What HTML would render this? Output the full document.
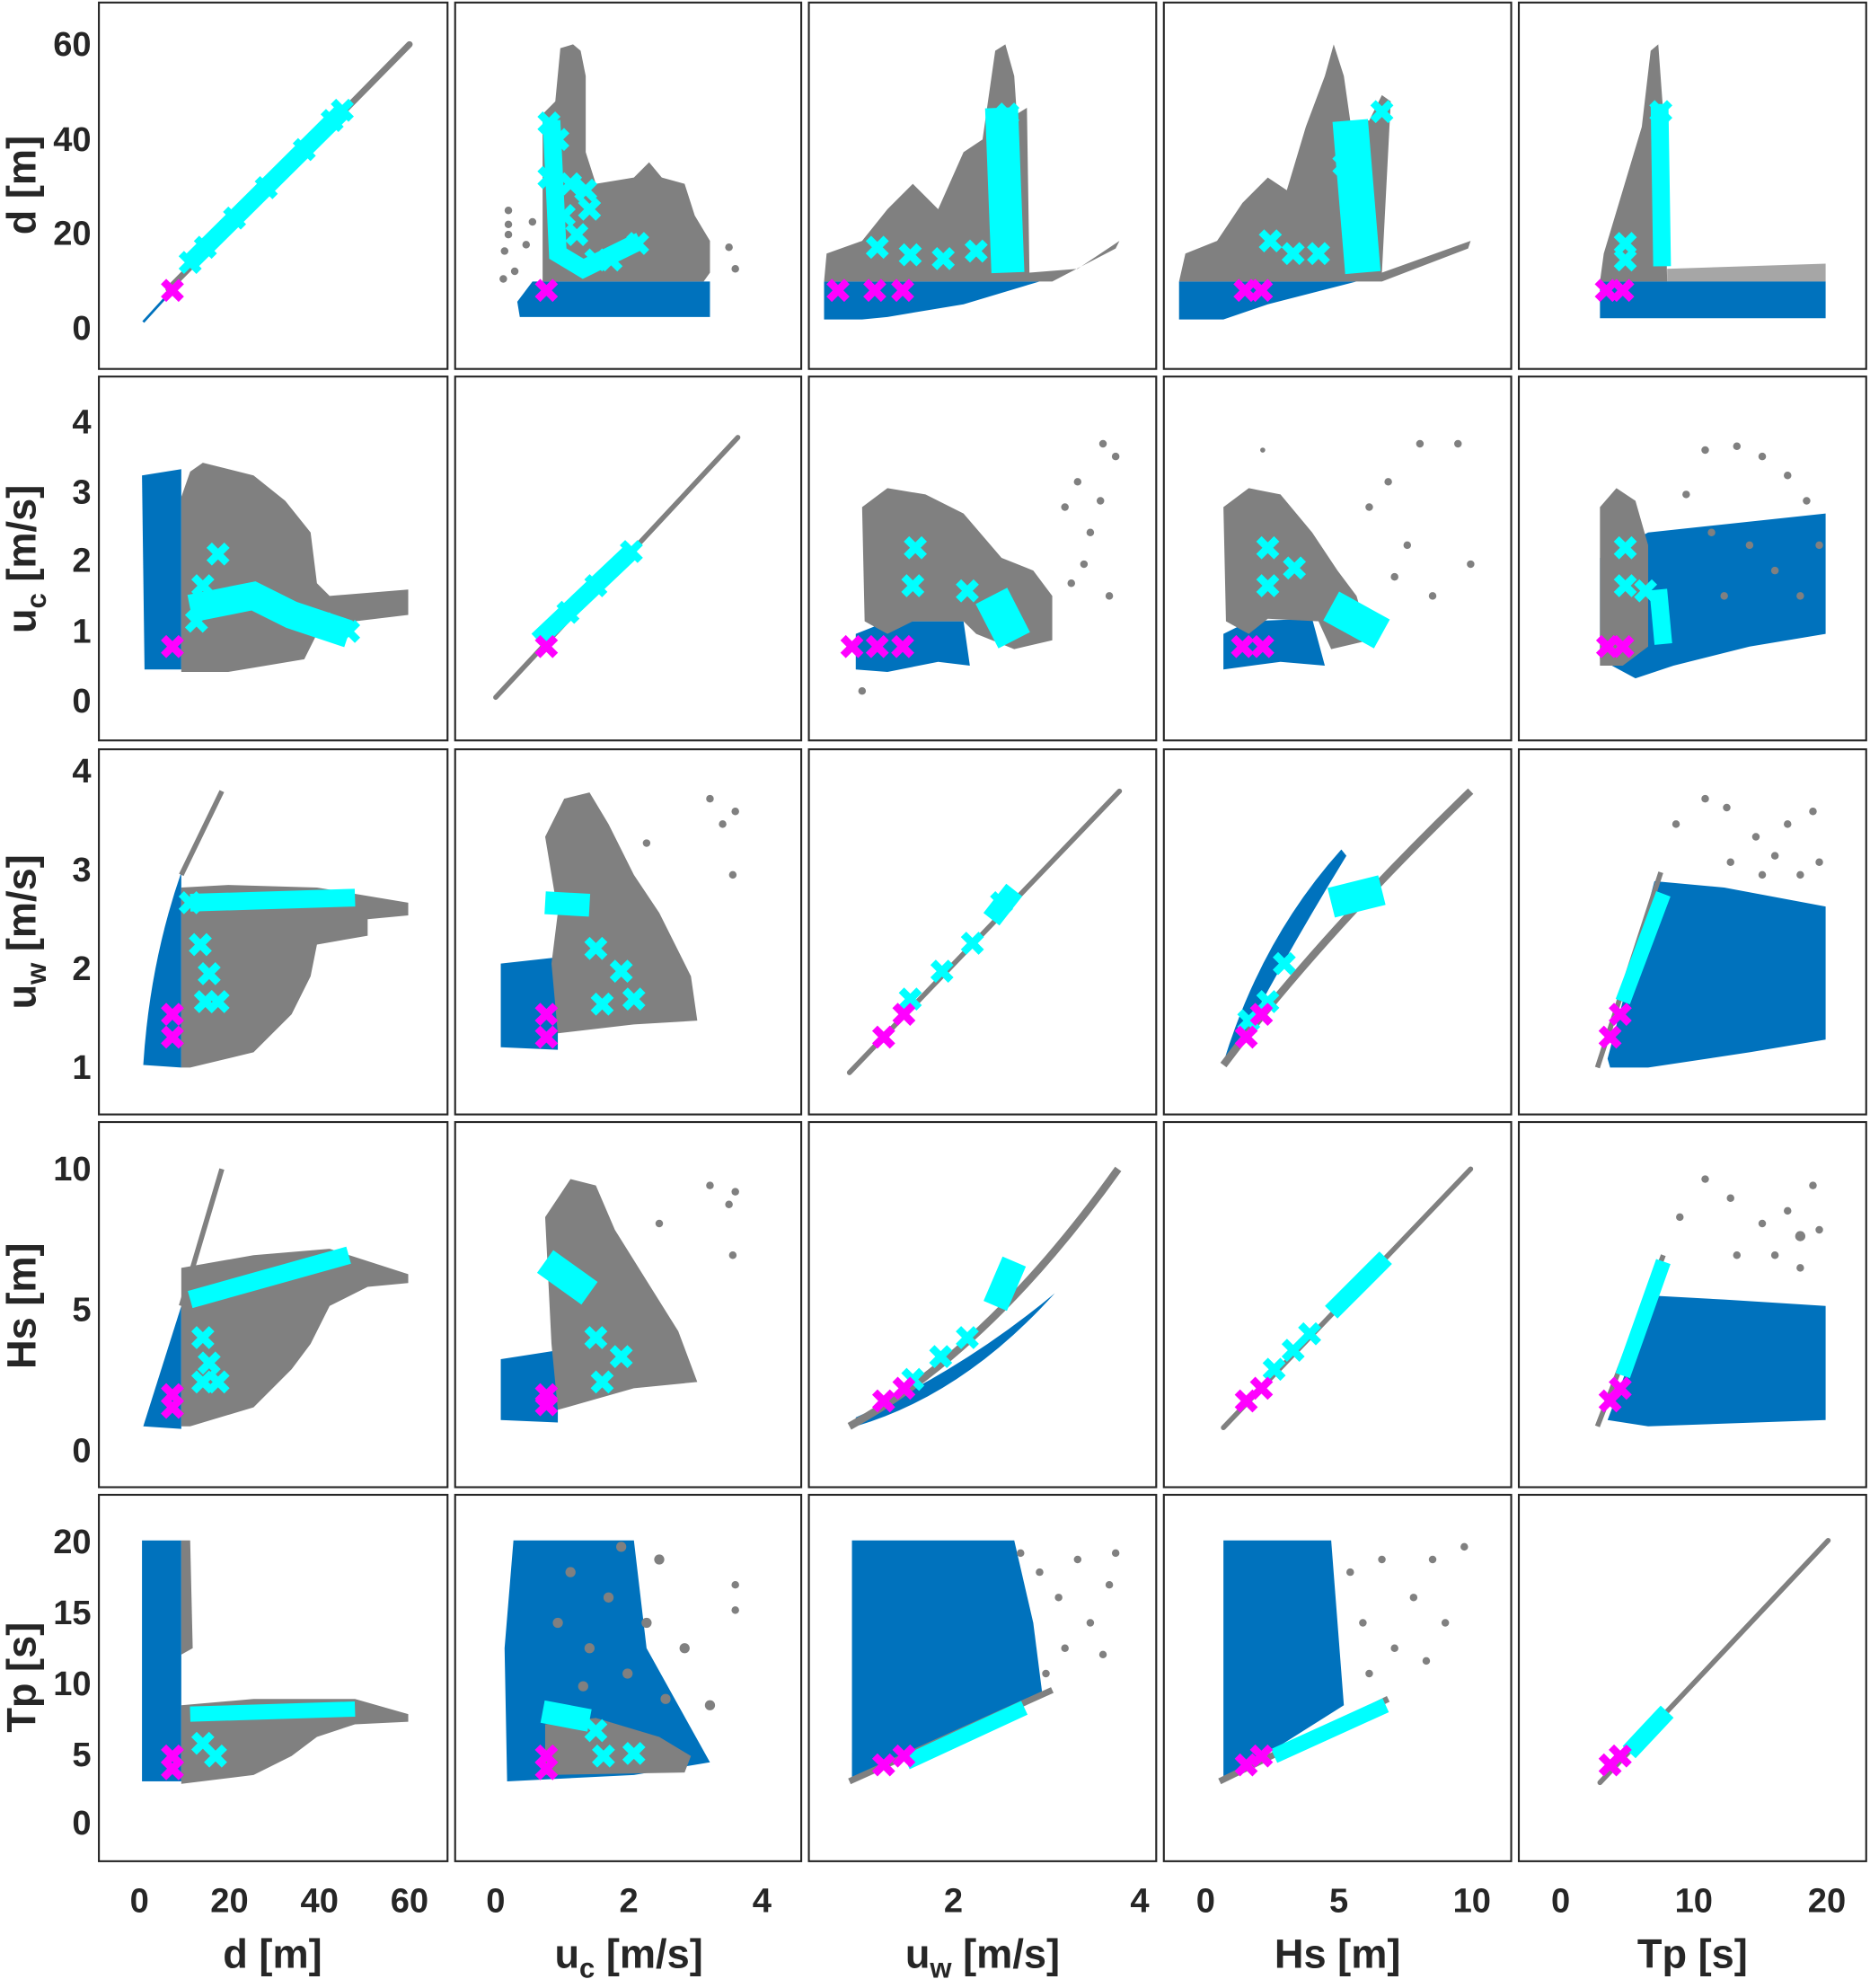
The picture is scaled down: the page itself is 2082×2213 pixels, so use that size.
<!DOCTYPE html>
<html><head><meta charset="utf-8"><style>html,body{margin:0;padding:0;background:#fff}svg{display:block}</style></head>
<body>
<svg width="2082" height="2213" viewBox="0 0 1475 1568" preserveAspectRatio="none" xmlns="http://www.w3.org/2000/svg" font-family="Liberation Sans, Arial, sans-serif" font-weight="bold" fill="#262626">
<defs>
<path id="x" d="M-7,-7L7,7M-7,7L7,-7" fill="none" stroke-width="6"/>
</defs>
<rect width="1475" height="1568" fill="#fff"/>

<!-- ===== ROW 1 (d) ===== -->
<line x1="113" y1="254" x2="133" y2="232" stroke="#0072BD" stroke-width="2"/>
<line x1="133" y1="228" x2="323" y2="35" stroke="#808080" stroke-width="5" stroke-linecap="round"/>
<line x1="150" y1="207" x2="272" y2="86" stroke="#00FFFF" stroke-width="14"/>
<g stroke="#00FFFF"><use href="#x" x="150" y="207"/><use href="#x" x="162" y="195"/><use href="#x" x="185" y="172"/><use href="#x" x="210" y="148"/><use href="#x" x="240" y="118"/><use href="#x" x="262" y="95"/><use href="#x" x="270" y="87"/></g>
<g stroke="#FF00FF"><use href="#x" x="136" y="229"/></g>

<path d="M410,250 L408,238 L420,222 L560,222 L560,250 Z" fill="#0072BD"/>
<path d="M428,222 L428,90 L438,80 L442,38 L452,35 L458,40 L462,60 L462,120 L470,145 L500,140 L512,128 L522,140 L540,145 L548,170 L560,190 L560,215 L555,222 Z" fill="#808080"/>
<g fill="#808080"><circle cx="401" cy="166" r="3"/><circle cx="401" cy="177" r="3"/><circle cx="401" cy="185" r="3"/><circle cx="398" cy="198" r="3"/><circle cx="415" cy="193" r="3"/><circle cx="406" cy="214" r="3"/><circle cx="397" cy="220" r="3"/><circle cx="420" cy="175" r="3"/><circle cx="575" cy="195" r="3"/><circle cx="580" cy="212" r="3"/></g>
<path d="M435,95 L440,200 L460,212 L505,190" fill="none" stroke="#00FFFF" stroke-width="14"/>
<g stroke="#00FFFF"><use href="#x" x="433" y="97"/><use href="#x" x="440" y="110"/><use href="#x" x="433" y="140"/><use href="#x" x="450" y="145"/><use href="#x" x="462" y="150"/><use href="#x" x="445" y="170"/><use href="#x" x="455" y="185"/><use href="#x" x="470" y="205"/><use href="#x" x="482" y="205"/><use href="#x" x="503" y="192"/><use href="#x" x="465" y="165"/></g>
<g stroke="#FF00FF"><use href="#x" x="431" y="229"/></g>

<path d="M650,222 L820,222 L760,240 L700,250 L680,252 L650,252 Z" fill="#0072BD"/>
<path d="M650,222 L652,200 L680,190 L700,165 L720,145 L740,165 L760,120 L775,110 L785,40 L793,35 L800,60 L802,90 L810,85 L812,215 L850,212 L883,190 L880,196 L830,222 Z" fill="#808080"/>
<path d="M790,85 L795,215" stroke="#00FFFF" stroke-width="26"/>
<g stroke="#00FFFF"><use href="#x" x="692" y="195"/><use href="#x" x="718" y="201"/><use href="#x" x="744" y="204"/><use href="#x" x="770" y="198"/><use href="#x" x="795" y="90"/></g>
<g stroke="#FF00FF"><use href="#x" x="661" y="229"/><use href="#x" x="690" y="229"/><use href="#x" x="712" y="229"/></g>

<path d="M930,222 L1070,222 L1000,240 L965,252 L930,252 Z" fill="#0072BD"/>
<path d="M930,222 L935,200 L960,190 L980,160 L1000,140 L1015,150 L1030,100 L1045,60 L1052,35 L1060,60 L1065,95 L1080,95 L1090,75 L1097,80 L1090,215 L1160,190 L1158,196 L1090,222 Z" fill="#808080"/>
<path d="M1065,95 L1075,215" stroke="#00FFFF" stroke-width="28"/>
<g stroke="#00FFFF"><use href="#x" x="1002" y="190"/><use href="#x" x="1020" y="200"/><use href="#x" x="1040" y="200"/><use href="#x" x="1090" y="88"/><use href="#x" x="1060" y="130"/></g>
<g stroke="#FF00FF"><use href="#x" x="982" y="229"/><use href="#x" x="995" y="229"/></g>

<rect x="1262" y="222" width="178" height="29" fill="#0072BD"/>
<path d="M1262,222 L1265,200 L1280,150 L1295,100 L1302,40 L1308,35 L1312,90 L1315,222 Z" fill="#808080"/>
<path d="M1315,212 L1440,208 L1440,222 L1315,222 Z" fill="#808080" opacity="0.7"/>
<path d="M1309,82 L1311,210" stroke="#00FFFF" stroke-width="14"/>
<g stroke="#00FFFF"><use href="#x" x="1282" y="192"/><use href="#x" x="1282" y="205"/><use href="#x" x="1310" y="88"/></g>
<g stroke="#FF00FF"><use href="#x" x="1267" y="229"/><use href="#x" x="1280" y="229"/></g>

<!-- ===== ROW 2 (uc) ===== -->
<path d="M112,375 L143,370 L143,528 L114,528 Z" fill="#0072BD"/>
<path d="M143,392 L150,372 L160,365 L200,375 L225,395 L245,420 L250,460 L260,470 L322,465 L322,485 L280,490 L250,500 L240,520 L180,530 L143,530 Z" fill="#808080"/>
<path d="M150,480 L200,470 L230,485 L275,500" stroke="#00FFFF" stroke-width="22" fill="none"/>
<g stroke="#00FFFF"><use href="#x" x="172" y="437"/><use href="#x" x="160" y="462"/><use href="#x" x="155" y="490"/><use href="#x" x="275" y="498"/><use href="#x" x="255" y="492"/></g>
<g stroke="#FF00FF"><use href="#x" x="136" y="510"/></g>

<line x1="391" y1="550" x2="582" y2="345" stroke="#808080" stroke-width="4" stroke-linecap="round"/>
<line x1="424" y1="505" x2="500" y2="433" stroke="#00FFFF" stroke-width="14"/>
<g stroke="#00FFFF"><use href="#x" x="448" y="483"/><use href="#x" x="470" y="462"/><use href="#x" x="498" y="435"/></g>
<g stroke="#FF00FF"><use href="#x" x="431" y="510"/></g>

<path d="M675,500 L700,490 L760,490 L765,525 L740,522 L700,530 L675,528 Z" fill="#0072BD"/>
<path d="M680,400 L700,385 L730,390 L760,405 L790,440 L815,450 L830,470 L830,505 L800,512 L770,500 L760,490 L720,490 L700,500 L682,490 Z" fill="#808080"/>
<g fill="#808080"><circle cx="840" cy="400" r="3"/><circle cx="850" cy="380" r="3"/><circle cx="860" cy="420" r="3"/><circle cx="870" cy="350" r="3"/><circle cx="880" cy="360" r="3"/><circle cx="855" cy="445" r="3"/><circle cx="875" cy="470" r="3"/><circle cx="845" cy="460" r="3"/><circle cx="868" cy="395" r="3"/><circle cx="680" cy="545" r="3"/></g>
<path d="M782,470 L800,505" stroke="#00FFFF" stroke-width="28"/>
<g stroke="#00FFFF"><use href="#x" x="722" y="432"/><use href="#x" x="720" y="462"/><use href="#x" x="763" y="466"/></g>
<g stroke="#FF00FF"><use href="#x" x="672" y="510"/><use href="#x" x="692" y="510"/><use href="#x" x="712" y="510"/></g>

<path d="M965,500 L985,490 L1035,488 L1045,525 L1010,522 L965,528 Z" fill="#0072BD"/>
<path d="M965,400 L985,385 L1010,390 L1035,420 L1055,450 L1070,470 L1080,505 L1050,512 L1040,490 L1000,488 L985,500 L967,490 Z" fill="#808080"/>
<g fill="#808080"><circle cx="1080" cy="400" r="3"/><circle cx="1095" cy="380" r="3"/><circle cx="1110" cy="430" r="3"/><circle cx="1120" cy="350" r="3"/><circle cx="1150" cy="350" r="3"/><circle cx="1100" cy="455" r="3"/><circle cx="1160" cy="445" r="3"/><circle cx="1130" cy="470" r="3"/><circle cx="996" cy="355" r="2"/></g>
<path d="M1050,478 L1090,500" stroke="#00FFFF" stroke-width="26"/>
<g stroke="#00FFFF"><use href="#x" x="1000" y="432"/><use href="#x" x="1000" y="462"/><use href="#x" x="1021" y="448"/></g>
<g stroke="#FF00FF"><use href="#x" x="980" y="510"/><use href="#x" x="996" y="510"/></g>

<path d="M1262,520 L1262,440 L1300,420 L1440,405 L1440,500 L1380,510 L1320,525 L1290,535 Z" fill="#0072BD"/>
<path d="M1262,400 L1275,385 L1290,395 L1300,430 L1300,510 L1280,525 L1262,525 Z" fill="#808080"/>
<g fill="#808080"><circle cx="1345" cy="355" r="3"/><circle cx="1370" cy="352" r="3"/><circle cx="1390" cy="360" r="3"/><circle cx="1410" cy="375" r="3"/><circle cx="1425" cy="395" r="3"/><circle cx="1350" cy="420" r="3"/><circle cx="1380" cy="430" r="3"/><circle cx="1400" cy="450" r="3"/><circle cx="1420" cy="470" r="3"/><circle cx="1360" cy="470" r="3"/><circle cx="1435" cy="430" r="3"/><circle cx="1330" cy="390" r="3"/></g>
<path d="M1308,465 L1312,508" stroke="#00FFFF" stroke-width="14"/>
<g stroke="#00FFFF"><use href="#x" x="1282" y="432"/><use href="#x" x="1282" y="462"/><use href="#x" x="1298" y="466"/></g>
<g stroke="#FF00FF"><use href="#x" x="1268" y="510"/><use href="#x" x="1280" y="510"/></g>

<!-- ===== ROW 3 (uw) ===== -->
<path d="M113,840 Q118,760 143,688 L143,842 Z" fill="#0072BD"/>
<line x1="143" y1="690" x2="175" y2="624" stroke="#808080" stroke-width="4"/>
<path d="M143,700 L180,698 L250,700 L322,712 L322,722 L290,725 L290,738 L250,745 L245,770 L230,800 L200,830 L150,842 L143,842 Z" fill="#808080"/>
<path d="M150,712 L280,708" stroke="#00FFFF" stroke-width="14"/>
<g stroke="#00FFFF"><use href="#x" x="158" y="745"/><use href="#x" x="165" y="768"/><use href="#x" x="162" y="790"/><use href="#x" x="172" y="790"/><use href="#x" x="150" y="712"/></g>
<g stroke="#FF00FF"><use href="#x" x="136" y="800"/><use href="#x" x="136" y="818"/></g>

<path d="M395,760 L440,755 L440,828 L395,826 Z" fill="#0072BD"/>
<path d="M430,660 L445,630 L465,625 L480,650 L500,690 L520,720 L545,770 L550,805 L500,808 L440,815 L435,760 L440,720 Z" fill="#808080"/>
<g fill="#808080"><circle cx="560" cy="630" r="3"/><circle cx="570" cy="650" r="3"/><circle cx="580" cy="640" r="3"/><circle cx="510" cy="665" r="3"/><circle cx="578" cy="690" r="3"/></g>
<path d="M430,712 L465,714" stroke="#00FFFF" stroke-width="18"/>
<g stroke="#00FFFF"><use href="#x" x="470" y="748"/><use href="#x" x="490" y="766"/><use href="#x" x="475" y="792"/><use href="#x" x="500" y="788"/></g>
<g stroke="#FF00FF"><use href="#x" x="431" y="800"/><use href="#x" x="431" y="818"/></g>

<line x1="670" y1="846" x2="883" y2="624" stroke="#808080" stroke-width="4" stroke-linecap="round"/>
<line x1="782" y1="725" x2="800" y2="702" stroke="#00FFFF" stroke-width="16"/>
<g stroke="#00FFFF"><use href="#x" x="718" y="788"/><use href="#x" x="743" y="766"/><use href="#x" x="767" y="744"/><use href="#x" x="790" y="712"/></g>
<g stroke="#FF00FF"><use href="#x" x="697" y="818"/><use href="#x" x="713" y="800"/></g>

<path d="M965,838 Q995,740 1058,670 L1062,675 Q1010,760 970,838 Z" fill="#0072BD"/>
<path d="M965,840 Q1040,740 1160,624" fill="none" stroke="#808080" stroke-width="6"/>
<path d="M1050,712 L1090,702" stroke="#00FFFF" stroke-width="24"/>
<g stroke="#00FFFF"><use href="#x" x="1000" y="790"/><use href="#x" x="1013" y="760"/><use href="#x" x="985" y="805"/></g>
<g stroke="#FF00FF"><use href="#x" x="983" y="818"/><use href="#x" x="995" y="800"/></g>

<path d="M1268,835 L1305,695 L1360,700 L1440,715 L1440,780 L1440,820 L1380,830 L1300,842 L1270,842 Z" fill="#0072BD"/>
<line x1="1260" y1="842" x2="1310" y2="688" stroke="#808080" stroke-width="4"/>
<g fill="#808080"><circle cx="1345" cy="630" r="3"/><circle cx="1362" cy="637" r="3"/><circle cx="1385" cy="660" r="3"/><circle cx="1410" cy="650" r="3"/><circle cx="1430" cy="640" r="3"/><circle cx="1400" cy="675" r="3"/><circle cx="1420" cy="690" r="3"/><circle cx="1365" cy="680" r="3"/><circle cx="1435" cy="680" r="3"/><circle cx="1390" cy="690" r="3"/><circle cx="1322" cy="650" r="3"/></g>
<path d="M1280,790 L1312,705" stroke="#00FFFF" stroke-width="12"/>
<g stroke="#FF00FF"><use href="#x" x="1270" y="818"/><use href="#x" x="1278" y="800"/></g>

<!-- ===== ROW 4 (Hs) ===== -->
<path d="M113,1125 L143,1030 L143,1127 Z" fill="#0072BD"/>
<line x1="143" y1="1030" x2="175" y2="922" stroke="#808080" stroke-width="4"/>
<path d="M143,1000 L200,990 L260,985 L322,1005 L322,1012 L290,1015 L260,1030 L245,1060 L230,1080 L200,1110 L150,1125 L143,1125 Z" fill="#808080"/>
<path d="M150,1025 L275,990" stroke="#00FFFF" stroke-width="14"/>
<g stroke="#00FFFF"><use href="#x" x="160" y="1055"/><use href="#x" x="165" y="1075"/><use href="#x" x="160" y="1090"/><use href="#x" x="172" y="1090"/></g>
<g stroke="#FF00FF"><use href="#x" x="136" y="1100"/><use href="#x" x="136" y="1110"/></g>

<path d="M395,1072 L440,1065 L440,1122 L395,1120 Z" fill="#0072BD"/>
<path d="M430,960 L450,930 L470,935 L485,970 L510,1010 L535,1050 L550,1090 L500,1095 L440,1112 L435,1060 Z" fill="#808080"/>
<g fill="#808080"><circle cx="560" cy="935" r="3"/><circle cx="575" cy="950" r="3"/><circle cx="580" cy="940" r="3"/><circle cx="520" cy="965" r="3"/><circle cx="578" cy="990" r="3"/></g>
<path d="M430,995 L465,1020" stroke="#00FFFF" stroke-width="22"/>
<g stroke="#00FFFF"><use href="#x" x="470" y="1055"/><use href="#x" x="490" y="1070"/><use href="#x" x="475" y="1090"/></g>
<g stroke="#FF00FF"><use href="#x" x="431" y="1100"/><use href="#x" x="431" y="1108"/></g>

<path d="M675,1125 Q760,1100 832,1020 Q760,1080 675,1118 Z" fill="#0072BD"/>
<path d="M670,1125 Q780,1065 882,922" fill="none" stroke="#808080" stroke-width="6"/>
<path d="M785,1030 L800,995" stroke="#00FFFF" stroke-width="20"/>
<g stroke="#00FFFF"><use href="#x" x="720" y="1088"/><use href="#x" x="742" y="1070"/><use href="#x" x="763" y="1055"/></g>
<g stroke="#FF00FF"><use href="#x" x="697" y="1105"/><use href="#x" x="713" y="1095"/></g>

<line x1="965" y1="1126" x2="1160" y2="922" stroke="#808080" stroke-width="4" stroke-linecap="round"/>
<line x1="1050" y1="1035" x2="1093" y2="992" stroke="#00FFFF" stroke-width="14"/>
<g stroke="#00FFFF"><use href="#x" x="1005" y="1080"/><use href="#x" x="1020" y="1065"/><use href="#x" x="1033" y="1052"/></g>
<g stroke="#FF00FF"><use href="#x" x="983" y="1105"/><use href="#x" x="995" y="1095"/></g>

<path d="M1268,1120 L1305,1022 L1360,1025 L1440,1030 L1440,1120 L1300,1125 Z" fill="#0072BD"/>
<line x1="1260" y1="1125" x2="1312" y2="990" stroke="#808080" stroke-width="4"/>
<g fill="#808080"><circle cx="1345" cy="930" r="3"/><circle cx="1365" cy="945" r="3"/><circle cx="1390" cy="965" r="3"/><circle cx="1410" cy="955" r="3"/><circle cx="1430" cy="935" r="3"/><circle cx="1400" cy="990" r="3"/><circle cx="1420" cy="1000" r="3"/><circle cx="1370" cy="990" r="3"/><circle cx="1435" cy="970" r="3"/><circle cx="1325" cy="960" r="3"/><circle cx="1420" cy="975" r="4"/></g>
<path d="M1280,1085 L1312,995" stroke="#00FFFF" stroke-width="12"/>
<g stroke="#FF00FF"><use href="#x" x="1270" y="1105"/><use href="#x" x="1278" y="1095"/></g>

<!-- ===== ROW 5 (Tp) ===== -->
<rect x="112" y="1215" width="31" height="190" fill="#0072BD"/>
<path d="M143,1215 L150,1215 L152,1300 L143,1305 Z" fill="#808080"/>
<path d="M143,1345 L200,1340 L280,1340 L322,1352 L322,1358 L280,1360 L250,1370 L230,1385 L200,1400 L143,1407 Z" fill="#808080"/>
<path d="M150,1352 L280,1348" stroke="#00FFFF" stroke-width="12"/>
<g stroke="#00FFFF"><use href="#x" x="160" y="1375"/><use href="#x" x="170" y="1385"/></g>
<g stroke="#FF00FF"><use href="#x" x="136" y="1385"/><use href="#x" x="136" y="1395"/></g>

<path d="M405,1215 L500,1215 L510,1300 L560,1390 L500,1400 L400,1405 L398,1300 Z" fill="#0072BD"/>
<path d="M430,1360 L470,1355 L520,1370 L545,1385 L540,1398 L430,1400 Z" fill="#808080"/>
<g fill="#808080"><circle cx="440" cy="1280" r="4"/><circle cx="450" cy="1240" r="4"/><circle cx="465" cy="1300" r="4"/><circle cx="480" cy="1260" r="4"/><circle cx="495" cy="1320" r="4"/><circle cx="510" cy="1280" r="4"/><circle cx="525" cy="1340" r="4"/><circle cx="540" cy="1300" r="4"/><circle cx="520" cy="1230" r="4"/><circle cx="560" cy="1345" r="4"/><circle cx="580" cy="1250" r="3"/><circle cx="580" cy="1270" r="3"/><circle cx="460" cy="1330" r="4"/><circle cx="490" cy="1220" r="4"/></g>
<path d="M428,1350 L465,1357" stroke="#00FFFF" stroke-width="18"/>
<g stroke="#00FFFF"><use href="#x" x="470" y="1365"/><use href="#x" x="476" y="1385"/><use href="#x" x="500" y="1383"/></g>
<g stroke="#FF00FF"><use href="#x" x="431" y="1385"/><use href="#x" x="431" y="1395"/></g>

<path d="M672,1215 L800,1215 L815,1280 L822,1335 L672,1405 Z" fill="#0072BD"/>
<path d="M670,1405 L830,1333" stroke="#808080" stroke-width="5"/>
<g fill="#808080"><circle cx="805" cy="1225" r="3"/><circle cx="820" cy="1240" r="3"/><circle cx="835" cy="1260" r="3"/><circle cx="850" cy="1230" r="3"/><circle cx="860" cy="1280" r="3"/><circle cx="875" cy="1250" r="3"/><circle cx="840" cy="1300" r="3"/><circle cx="870" cy="1305" r="3"/><circle cx="825" cy="1320" r="3"/><circle cx="880" cy="1225" r="3"/></g>
<path d="M715,1390 L808,1347" stroke="#00FFFF" stroke-width="12"/>
<g stroke="#FF00FF"><use href="#x" x="697" y="1392"/><use href="#x" x="713" y="1385"/></g>

<path d="M965,1215 L1050,1215 L1060,1345 L965,1405 Z" fill="#0072BD"/>
<path d="M962,1405 L1095,1340" stroke="#808080" stroke-width="5"/>
<g fill="#808080"><circle cx="1065" cy="1240" r="3"/><circle cx="1075" cy="1280" r="3"/><circle cx="1090" cy="1230" r="3"/><circle cx="1100" cy="1300" r="3"/><circle cx="1115" cy="1260" r="3"/><circle cx="1130" cy="1230" r="3"/><circle cx="1140" cy="1280" r="3"/><circle cx="1155" cy="1220" r="3"/><circle cx="1080" cy="1320" r="3"/><circle cx="1125" cy="1310" r="3"/></g>
<path d="M1005,1385 L1093,1345" stroke="#00FFFF" stroke-width="12"/>
<g stroke="#FF00FF"><use href="#x" x="983" y="1392"/><use href="#x" x="995" y="1385"/></g>

<line x1="1262" y1="1406" x2="1442" y2="1215" stroke="#808080" stroke-width="4" stroke-linecap="round"/>
<line x1="1285" y1="1382" x2="1315" y2="1350" stroke="#00FFFF" stroke-width="14"/>
<g stroke="#FF00FF"><use href="#x" x="1270" y="1392"/><use href="#x" x="1278" y="1385"/></g>

<!-- ===== FRAMES ===== -->
<g fill="none" stroke="#262626" stroke-width="1.5">
<rect x="78" y="2" width="275" height="289"/><rect x="359" y="2" width="273" height="289"/><rect x="638" y="2" width="274" height="289"/><rect x="918" y="2" width="274" height="289"/><rect x="1198" y="2" width="274" height="289"/>
<rect x="78" y="297" width="275" height="287"/><rect x="359" y="297" width="273" height="287"/><rect x="638" y="297" width="274" height="287"/><rect x="918" y="297" width="274" height="287"/><rect x="1198" y="297" width="274" height="287"/>
<rect x="78" y="591" width="275" height="288"/><rect x="359" y="591" width="273" height="288"/><rect x="638" y="591" width="274" height="288"/><rect x="918" y="591" width="274" height="288"/><rect x="1198" y="591" width="274" height="288"/>
<rect x="78" y="885" width="275" height="288"/><rect x="359" y="885" width="273" height="288"/><rect x="638" y="885" width="274" height="288"/><rect x="918" y="885" width="274" height="288"/><rect x="1198" y="885" width="274" height="288"/>
<rect x="78" y="1179" width="275" height="289"/><rect x="359" y="1179" width="273" height="289"/><rect x="638" y="1179" width="274" height="289"/><rect x="918" y="1179" width="274" height="289"/><rect x="1198" y="1179" width="274" height="289"/>
</g>

<g font-size="27" text-anchor="end">
<text x="72" y="44">60</text><text x="72" y="119">40</text><text x="72" y="193">20</text><text x="72" y="268">0</text>
<text x="72" y="342">4</text><text x="72" y="397">3</text><text x="72" y="451">2</text><text x="72" y="507">1</text><text x="72" y="562">0</text>
<text x="72" y="617">4</text><text x="72" y="695">3</text><text x="72" y="773">2</text><text x="72" y="851">1</text>
<text x="72" y="931">10</text><text x="72" y="1042">5</text><text x="72" y="1153">0</text>
<text x="72" y="1225">20</text><text x="72" y="1281">15</text><text x="72" y="1337">10</text><text x="72" y="1393">5</text><text x="72" y="1447">0</text>
</g>
<g font-size="27" text-anchor="middle">
<text x="110" y="1508">0</text><text x="181" y="1508">20</text><text x="252" y="1508">40</text><text x="323" y="1508">60</text>
<text x="391" y="1508">0</text><text x="496" y="1508">2</text><text x="601" y="1508">4</text>
<text x="752" y="1508">2</text><text x="899" y="1508">4</text>
<text x="951" y="1508">0</text><text x="1056" y="1508">5</text><text x="1161" y="1508">10</text>
<text x="1231" y="1508">0</text><text x="1336" y="1508">10</text><text x="1441" y="1508">20</text>
</g>
<g font-size="32" text-anchor="middle">
<text x="215" y="1552">d [m]</text>
<text x="496" y="1552">u<tspan font-size="22" dy="8">c</tspan><tspan dy="-8"> [m/s]</tspan></text>
<text x="775" y="1552">u<tspan font-size="22" dy="8">w</tspan><tspan dy="-8"> [m/s]</tspan></text>
<text x="1055" y="1552">Hs [m]</text>
<text x="1335" y="1552">Tp [s]</text>
<text transform="translate(28,146) rotate(-90)">d [m]</text>
<text transform="translate(28,441) rotate(-90)">u<tspan font-size="22" dy="8">c</tspan><tspan dy="-8"> [m/s]</tspan></text>
<text transform="translate(28,735) rotate(-90)">u<tspan font-size="22" dy="8">w</tspan><tspan dy="-8"> [m/s]</tspan></text>
<text transform="translate(28,1030) rotate(-90)">Hs [m]</text>
<text transform="translate(28,1323) rotate(-90)">Tp [s]</text>
</g>
</svg>
</body></html>
